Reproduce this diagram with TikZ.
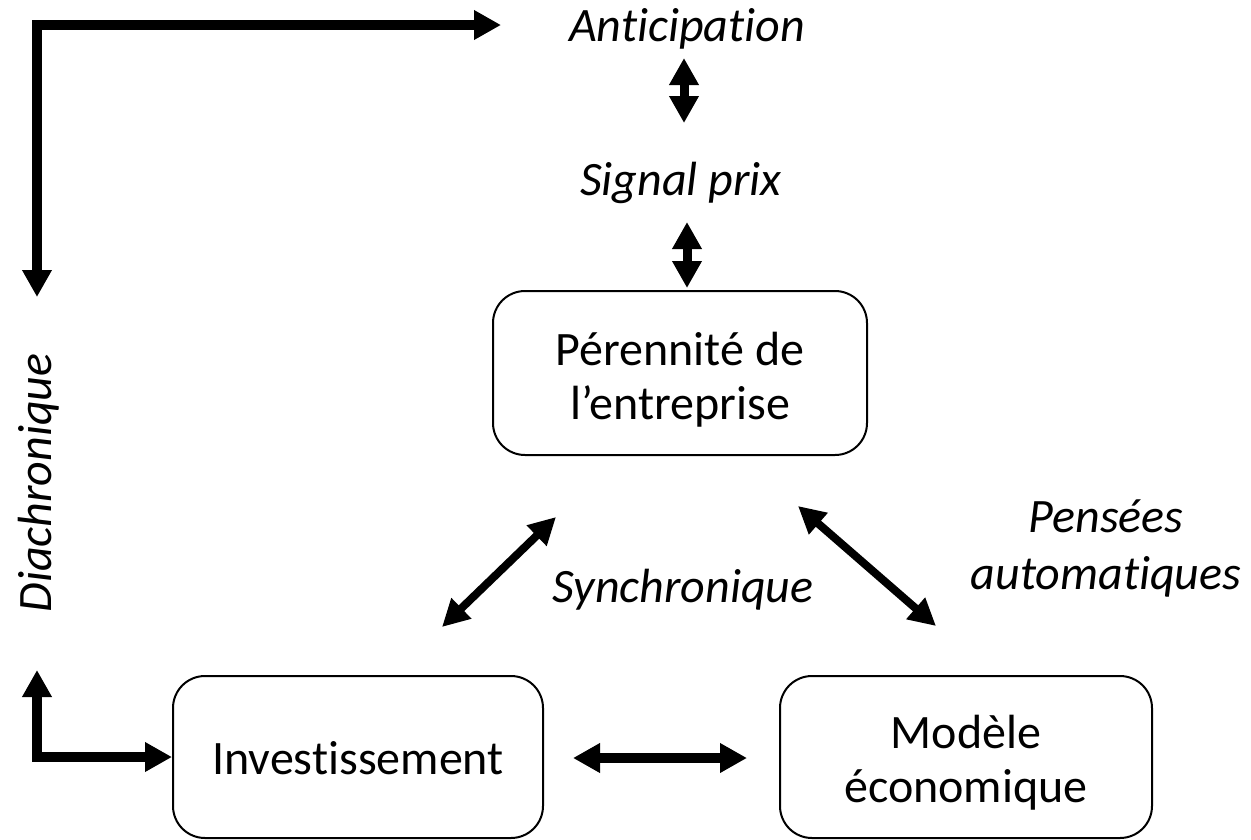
\documentclass[tikz,border=0pt]{standalone}
\usepackage{fontspec}
\setmainfont{Carlito}[Ligatures=CommonOff]
\usetikzlibrary{arrows.meta}
\begin{document}
\begin{tikzpicture}[x=1pt,y=-1pt,
  box/.style={draw,line width=2pt,rounded corners=32pt,inner sep=0pt},
  boxtxt/.style={inner sep=0pt,align=center,font=\fontsize{48}{54}\selectfont},
  lbl/.style={inner sep=0pt,font=\fontsize{48}{57}\selectfont\itshape,align=center},
  bigarrow/.style={line width=9.5pt,{Triangle[length=27pt,width=28pt]}-{Triangle[length=27pt,width=28pt]}},
  vdarrow/.style={line width=9pt,{Triangle[length=27pt,width=28pt]}-{Triangle[length=27pt,width=28pt]}},
  diag/.style={line width=8pt,{Triangle[length=27pt,width=27pt]}-{Triangle[length=27pt,width=27pt]}}]
\useasboundingbox (0,0) rectangle (1251,839);
% boxes
\node[box,minimum width=374pt,minimum height=164pt] (per) at (680,373) {};
\node[boxtxt] (pertxt) at (680,380) {Pérennité de\\l’entreprise};
\node[box,minimum width=370pt,minimum height=162pt] (inv) at (358,757) {};
\node[boxtxt] (invtxt) at (358,758) {Investissement};
\node[box,minimum width=372pt,minimum height=162pt] (mod) at (966,757) {};
\node[boxtxt] (modtxt) at (966,763) {Modèle\\économique};
% labels
\node[lbl,anchor=base] (ant) at (687,41) {Anticipation};
\node[lbl,anchor=base] (sig) at (681,195) {Signal prix};
\node[lbl,anchor=base] (syn) at (683,602) {Synchronique};
\node[lbl] (pen) at (1106,548) {Pensées\\automatiques};
\node[lbl,rotate=90] (dia) at (39,483) {Diachronique};
% connector coordinates
\coordinate (a1) at (684,58);
\coordinate (a2) at (684,123);
\coordinate (s1) at (687,222);
\coordinate (s2) at (687,288);
\coordinate (tl) at (37,297);
\coordinate (tr) at (501,25);
\coordinate (bl) at (37,670);
\coordinate (l1) at (442,627);
\coordinate (l2) at (556,517);
\coordinate (r1) at (798,506);
\coordinate (r2) at (936,626);
\coordinate (h1) at (573,758);
\coordinate (h2) at (747,758);
% arrows
\draw[bigarrow] (tl) |- (tr);
\draw[bigarrow] (bl) |- (inv.west);
\draw[vdarrow] (a1) -- (a2);
\draw[vdarrow] (s1) -- (s2);
\draw[diag] (l1) -- (l2);
\draw[diag] (r1) -- (r2);
\draw[bigarrow] (h1) -- (h2);
\end{tikzpicture}
\end{document}
